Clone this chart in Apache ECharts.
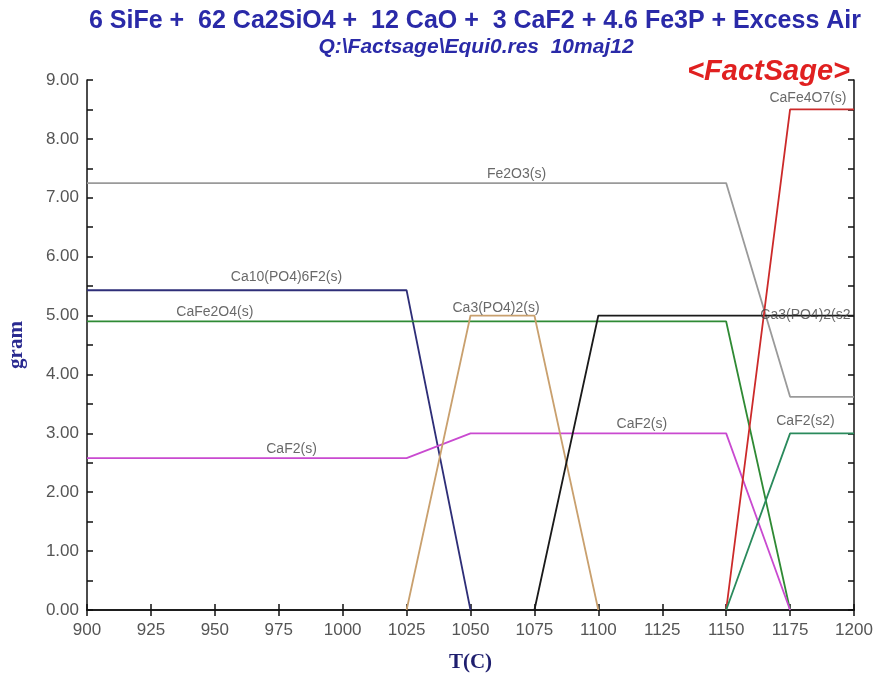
<!DOCTYPE html>
<html>
<head>
<meta charset="utf-8">
<script src="https://cdn.jsdelivr.net/npm/echarts@6/dist/echarts.min.js"></script>
<style>
  html, body { margin: 0; padding: 0; background: #fff; }
  #chart { width: 880px; height: 673px; }
</style>
</head>
<body>
<div id="chart"></div>
<script>
// temperature (C) and mass (gram) for each phase
var fe2o3T = [900, 1150, 1175, 1200]
var fe2o3G = [7.25, 7.25, 3.62, 3.62]
var apatiteT = [900, 1025, 1050]
var apatiteG = [5.43, 5.43, 0]
var cafe2o4T = [900, 1150, 1175]
var cafe2o4G = [4.9, 4.9, 0]
var caf2T = [900, 1025, 1050, 1150, 1175]
var caf2G = [2.58, 2.58, 3.0, 3.0, 0]
var ca3poT = [1025, 1050, 1075, 1100]
var ca3poG = [0, 5.0, 5.0, 0]
var ca3po2T = [1075, 1100, 1200]
var ca3po2G = [0, 5.0, 5.0]
var cafe4o7T = [1150, 1175, 1200]
var cafe4o7G = [0, 8.5, 8.5]
var caf2s2T = [1150, 1175, 1200]
var caf2s2G = [0, 3.0, 3.0]

// phase label positions [T, gram, text]
var phaseLabels = [
  [1068, 7.40, 'Fe2O3(s)'],
  [978, 5.65, 'Ca10(PO4)6F2(s)'],
  [950, 5.05, 'CaFe2O4(s)'],
  [980, 2.73, 'CaF2(s)'],
  [1060, 5.13, 'Ca3(PO4)2(s)'],
  [1117, 3.15, 'CaF2(s)'],
  [1181, 5.0, 'Ca3(PO4)2(s2'],
  [1181, 3.20, 'CaF2(s2)'],
  [1182, 8.70, 'CaFe4O7(s)']
]

function pairs (t, g) {
  var out = []
  for (var i = 0; i < t.length; i++) {
    out.push([t[i], g[i]])
  }
  return out
}

function line (name, t, g, color) {
  return {
    name: name,
    type: 'line',
    data: pairs(t, g),
    symbol: 'none',
    silent: true,
    lineStyle: { color: color, width: 1.8 }
  }
}

var tickFont = { color: '#555', fontSize: 17, fontFamily: 'Liberation Sans, Arial' }
var blue = '#2a2aa8'

var myChart = echarts.init(document.getElementById('chart'))
var option = {
  backgroundColor: '#fff',
  animation: false,
  title: [
    {
      text: '6 SiFe +  62 Ca2SiO4 +  12 CaO +  3 CaF2 + 4.6 Fe3P + Excess Air',
      left: 470,
      textAlign: 'center',
      top: 4,
      textStyle: { color: blue, fontSize: 25, fontWeight: 'bold', fontFamily: 'Liberation Sans, Arial' }
    },
    {
      text: 'Q:\\Factsage\\Equi0.res  10maj12',
      left: 471,
      textAlign: 'center',
      top: 32,
      textStyle: { color: blue, fontSize: 21, fontWeight: 'bold', fontStyle: 'italic', fontFamily: 'Liberation Sans, Arial' }
    },
    {
      text: '<FactSage>',
      right: 25,
      top: 52,
      textStyle: { color: '#e02020', fontSize: 29, fontWeight: 'bold', fontStyle: 'italic', fontFamily: 'Liberation Sans, Arial' }
    }
  ],
  grid: { left: 87, right: 26, top: 80, bottom: 63, outerBoundsMode: 'none' },
  xAxis: [
    {
      type: 'value',
      min: 900,
      max: 1200,
      interval: 25,
      name: 'T(C)',
      nameLocation: 'middle',
      nameGap: 42,
      nameTextStyle: { color: '#1e1e6e', fontSize: 21, fontWeight: 'bold', fontFamily: 'Liberation Serif, Times New Roman, serif' },
      axisLine: { lineStyle: { color: '#111', width: 1.5 } },
      axisTick: { inside: true, length: 6, lineStyle: { color: '#111', width: 1.5 } },
      axisLabel: Object.assign({ margin: 12, formatter: function (v) { return String(v) } }, tickFont),
      splitLine: { show: false }
    },
    {
      type: 'value',
      position: 'top',
      min: 900,
      max: 1200,
      interval: 25,
      axisLine: { show: true, lineStyle: { color: '#111', width: 1.5 } },
      axisTick: { inside: true, length: 6, lineStyle: { color: '#111', width: 1.5 } },
      axisLabel: { show: false },
      splitLine: { show: false }
    }
  ],
  yAxis: [
    {
      type: 'value',
      min: 0,
      max: 9,
      interval: 1,
      name: 'gram',
      nameLocation: 'middle',
      nameGap: 60,
      nameTextStyle: { color: '#2a2a90', fontSize: 21, fontWeight: 'bold', fontFamily: 'Liberation Serif, Times New Roman, serif' },
      axisLine: { show: true, lineStyle: { color: '#111', width: 1.5 } },
      axisTick: { inside: true, length: 6, lineStyle: { color: '#111', width: 1.5 } },
      minorTick: { show: true, splitNumber: 2, length: 6, lineStyle: { color: '#111', width: 1.5 } },
      axisLabel: Object.assign({ margin: 8, formatter: function (v) { return v.toFixed(2) } }, tickFont),
      splitLine: { show: false }
    },
    {
      type: 'value',
      position: 'right',
      min: 0,
      max: 9,
      interval: 0.5,
      axisLine: { show: true, lineStyle: { color: '#111', width: 1.5 } },
      axisTick: { inside: true, length: 6, lineStyle: { color: '#111', width: 1.5 } },
      axisLabel: { show: false },
      splitLine: { show: false }
    }
  ],
  series: [
    line('Fe2O3(s)', fe2o3T, fe2o3G, '#9a9a9a'),
    line('Ca10(PO4)6F2(s)', apatiteT, apatiteG, '#2e2e78'),
    line('CaFe2O4(s)', cafe2o4T, cafe2o4G, '#2f8a34'),
    line('CaF2(s)', caf2T, caf2G, '#c94ad0'),
    line('Ca3(PO4)2(s)', ca3poT, ca3poG, '#c9a06e'),
    line('Ca3(PO4)2(s2)', ca3po2T, ca3po2G, '#1a1a1a'),
    line('CaFe4O7(s)', cafe4o7T, cafe4o7G, '#cc2a2a'),
    line('CaF2(s2)', caf2s2T, caf2s2G, '#2a8a5c'),
    {
      type: 'scatter',
      silent: true,
      symbolSize: 0,
      data: phaseLabels.map(function (p) { return { value: [p[0], p[1]], name: p[2] } }),
      label: {
        show: true,
        position: 'inside',
        formatter: '{b}',
        color: '#444',
        fontSize: 14,
        fontFamily: 'Liberation Sans, Arial'
      },
      z: 5
    }
  ]
}
myChart.setOption(option, true)
</script>
</body>
</html>
